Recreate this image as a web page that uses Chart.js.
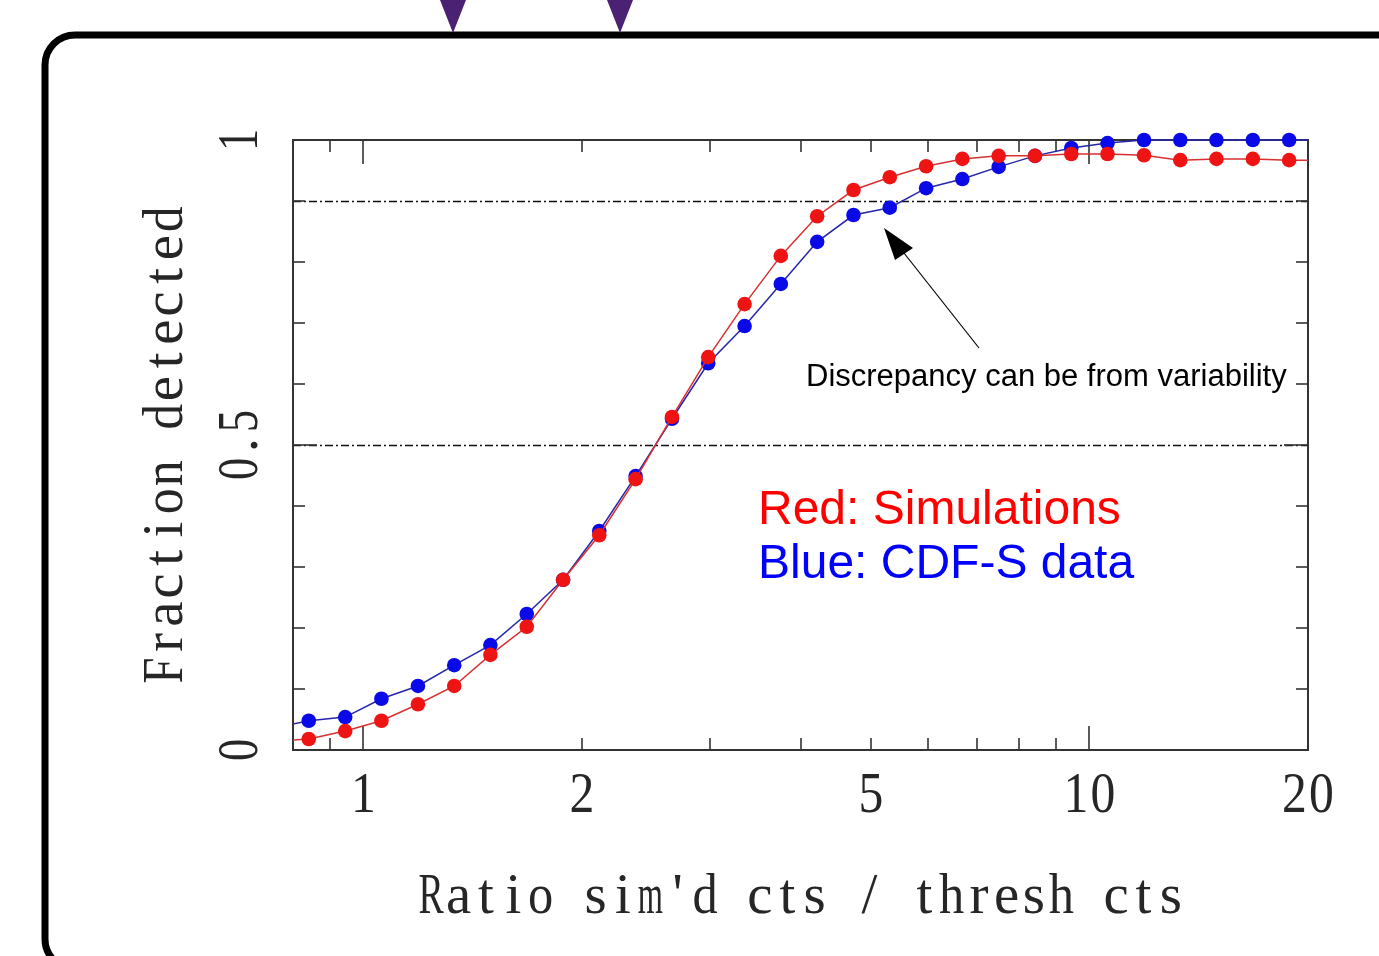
<!DOCTYPE html>
<html>
<head>
<meta charset="utf-8">
<script src="https://cdn.jsdelivr.net/npm/chart.js@4/dist/chart.umd.min.js"></script>
<style>
html,body{margin:0;padding:0;background:#fff;}
#wrap{width:1379px;height:956px;position:relative;}
</style>
</head>
<body>
<div id="wrap"><canvas id="c" width="1379" height="956"></canvas></div>
<script>
// ---- data ----
const ratioValues = [0.75, 0.841, 0.944, 1.059, 1.189, 1.334, 1.496, 1.679, 1.884, 2.113, 2.371, 2.661, 2.985, 3.350, 3.758, 4.217, 4.732, 5.309, 5.957, 6.683, 7.499, 8.414, 9.441, 10.59, 11.89, 13.34, 14.96, 16.79, 18.84, 21.13];
const simFraction = [0.014, 0.018, 0.031, 0.048, 0.075, 0.105, 0.156, 0.202, 0.279, 0.352, 0.444, 0.546, 0.644, 0.731, 0.810, 0.875, 0.918, 0.939, 0.957, 0.969, 0.974, 0.974, 0.977, 0.977, 0.975, 0.967, 0.969, 0.969, 0.967, 0.967];
const dataFraction = [0.036, 0.048, 0.054, 0.084, 0.105, 0.139, 0.172, 0.223, 0.279, 0.359, 0.449, 0.543, 0.634, 0.695, 0.764, 0.833, 0.877, 0.889, 0.921, 0.936, 0.956, 0.974, 0.987, 0.995, 1.0, 1.0, 1.0, 1.0, 1.0, 1.0];
const shownPoint = [0, 1,1,1,1,1,1,1,1,1,1,1,1,1,1,1,1,1,1,1,1,1,1,1,1,1,1,1,1, 0];

const xTickValues = [1, 2, 5, 10, 20];
const xTickLabels = ['1', '2', '5', '10', '20'];
const xMinorTicks = [0.9, 2, 3, 4, 5, 6, 7, 8, 9];
const xMajorTicks = [1, 10];
const yTickValues = [0, 0.5, 1];
const yTickLabels = ['0', '0.5', '1'];
const yMinorTicks = [0.1, 0.2, 0.3, 0.4, 0.6, 0.7, 0.8, 0.9];
const yMajorTicks = [0.5];
const refLevels = [0.5, 0.9];

const xTitle = "Ratio sim'd cts / thresh cts";
const yTitle = 'Fraction detected';
const noteText = 'Discrepancy can be from variability';
const legendRed = 'Red: Simulations';
const legendBlue = 'Blue: CDF-S data';

// ---- helpers: thin serif text laid out on a fixed (monospaced) pitch ----
const axisFont = '57px "Liberation Serif", "DejaVu Serif", serif';
function monoText(ctx, text, x, y, rot, pitch) {
  ctx.save();
  ctx.font = axisFont;
  ctx.fillStyle = '#262626';
  ctx.textAlign = 'center';
  ctx.textBaseline = 'middle';
  ctx.translate(x, y);
  ctx.rotate(rot);
  const start = -text.length * pitch / 2;
  for (let i = 0; i < text.length; i++) {
    const ch = text[i];
    if (ch === ' ') continue;
    const w = ctx.measureText(ch).width;
    const sx = Math.min(1, (pitch * 0.92) / w);
    ctx.save();
    ctx.translate(start + (i + 0.5) * pitch, 0);
    ctx.scale(sx, 1);
    ctx.fillText(ch, 0, 0);
    ctx.restore();
  }
  ctx.restore();
}

const decor = {
  id: 'decor',
  beforeDatasetsDraw(chart) {
    const ctx = chart.ctx;
    const a = chart.chartArea;
    const xs = chart.scales.x, ys = chart.scales.y;
    ctx.save();
    // slide frame
    ctx.strokeStyle = '#000';
    ctx.lineWidth = 7;
    ctx.beginPath();
    ctx.roundRect(45, 35, 1500, 934, 30);
    ctx.stroke();
    // purple markers at top
    ctx.fillStyle = '#4b2173';
    [453, 620].forEach(cx => {
      ctx.beginPath();
      ctx.moveTo(cx - 13, 0);
      ctx.lineTo(cx + 13, 0);
      ctx.lineTo(cx, 33);
      ctx.closePath();
      ctx.fill();
    });
    // reference dash-dot lines
    ctx.strokeStyle = '#111';
    ctx.lineWidth = 1.4;
    ctx.setLineDash([8, 3, 2, 3]);
    refLevels.forEach(v => {
      const py = Math.round(ys.getPixelForValue(v)) + 0.5;
      ctx.beginPath();
      ctx.moveTo(a.left, py);
      ctx.lineTo(a.right, py);
      ctx.stroke();
    });
    ctx.setLineDash([]);
    // axes box
    ctx.strokeStyle = '#333';
    ctx.lineWidth = 2;
    ctx.strokeRect(a.left, a.top, a.right - a.left, a.bottom - a.top);
    // ticks
    ctx.lineWidth = 1.6;
    const tick = (x1, y1, x2, y2) => { ctx.beginPath(); ctx.moveTo(x1, y1); ctx.lineTo(x2, y2); ctx.stroke(); };
    xMinorTicks.forEach(v => {
      const px = Math.round(xs.getPixelForValue(v));
      tick(px, a.bottom, px, a.bottom - 12);
      tick(px, a.top, px, a.top + 12);
    });
    xMajorTicks.forEach(v => {
      const px = Math.round(xs.getPixelForValue(v));
      tick(px, a.bottom, px, a.bottom - 24);
      tick(px, a.top, px, a.top + 24);
    });
    yMinorTicks.forEach(v => {
      const py = Math.round(ys.getPixelForValue(v));
      tick(a.left, py, a.left + 12, py);
      tick(a.right, py, a.right - 12, py);
    });
    yMajorTicks.forEach(v => {
      const py = Math.round(ys.getPixelForValue(v));
      tick(a.left, py, a.left + 24, py);
      tick(a.right, py, a.right - 24, py);
    });
    ctx.restore();
  },
  afterDatasetsDraw(chart) {
    const ctx = chart.ctx;
    const xs = chart.scales.x, ys = chart.scales.y;
    ctx.save();
    // tick labels
    xTickValues.forEach((v, i) => {
      monoText(ctx, xTickLabels[i], xs.getPixelForValue(v), 797, 0, 27);
    });
    yTickValues.forEach((v, i) => {
      monoText(ctx, yTickLabels[i], 242, ys.getPixelForValue(v), -Math.PI / 2, 24);
    });
    // axis titles
    monoText(ctx, xTitle, 801, 898, 0, 27.4);
    monoText(ctx, yTitle, 167, 445, -Math.PI / 2, 28.2);
    // annotation arrow
    ctx.strokeStyle = '#000';
    ctx.fillStyle = '#000';
    ctx.lineWidth = 1.2;
    ctx.beginPath();
    ctx.moveTo(979, 348);
    ctx.lineTo(900, 248);
    ctx.stroke();
    ctx.beginPath();
    ctx.moveTo(884, 228);
    ctx.lineTo(913, 248);
    ctx.lineTo(895, 260);
    ctx.closePath();
    ctx.fill();
    // annotation text
    ctx.font = '31px "Liberation Sans", Arial, sans-serif';
    ctx.textAlign = 'left';
    ctx.textBaseline = 'alphabetic';
    ctx.fillText(noteText, 806, 386);
    ctx.font = '48px "Liberation Sans", Arial, sans-serif';
    ctx.fillStyle = '#ff0000';
    ctx.fillText(legendRed, 758, 524);
    ctx.fillStyle = '#0000ff';
    ctx.fillText(legendBlue, 758, 578);
    ctx.restore();
  }
};

const toPoints = vals => ratioValues.map((x, i) => ({ x: x, y: vals[i] }));
const radii = shownPoint.map(s => s ? 7.3 : 0);

new Chart(document.getElementById('c').getContext('2d'), {
  type: 'line',
  data: {
    datasets: [
      {
        label: 'Simulations',
        data: toPoints(simFraction),
        borderColor: '#d83030',
        borderWidth: 1.5,
        pointBackgroundColor: '#ee1414',
        pointBorderWidth: 0,
        pointRadius: radii,
        tension: 0,
        clip: { left: 0, right: 0, top: 10, bottom: 10 }
      },
      {
        label: 'CDF-S data',
        data: toPoints(dataFraction),
        borderColor: '#2626a8',
        borderWidth: 1.5,
        pointBackgroundColor: '#0a0ae8',
        pointBorderWidth: 0,
        pointRadius: radii,
        tension: 0,
        clip: { left: 0, right: 0, top: 10, bottom: 10 }
      }
    ]
  },
  options: {
    responsive: false,
    animation: false,
    layout: { padding: { left: 293, top: 140, right: 71, bottom: 206 } },
    scales: {
      x: { type: 'logarithmic', min: 0.8, max: 20, display: false },
      y: { type: 'linear', min: 0, max: 1, display: false }
    },
    plugins: { legend: { display: false }, tooltip: { enabled: false } },
    events: []
  },
  plugins: [decor]
});
</script>
</body>
</html>
